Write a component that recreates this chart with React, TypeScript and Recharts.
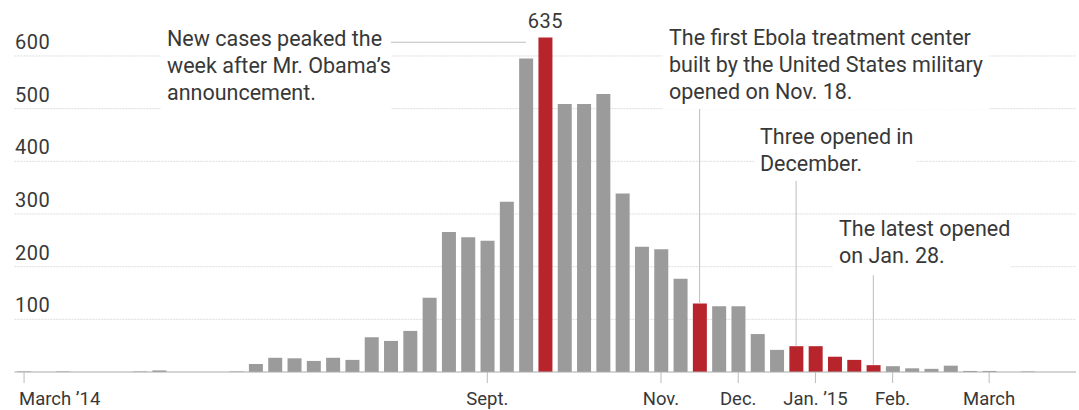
import { BarChart, Bar, XAxis, YAxis, CartesianGrid, Cell, LabelList, ReferenceLine } from 'recharts';

// weekly new Ebola cases, March 2014 – March 2015
const weeks = Array.from({ length: 55 }, (_, i) => `w${i}`);
const cases = [
  1, 0, 1, 0, 0, 0, 1, 3, 0, 0,
  0, 1, 15, 27, 26, 21, 27, 23, 66, 59,
  78, 141, 266, 256, 249, 323, 595, 635, 509, 509,
  528, 339, 238, 233, 177, 130, 125, 125, 72, 42,
  49, 49, 29, 23, 13, 11, 7, 6, 12, 2,
  2, 0, 1, 0, 0,
];
// weeks drawn in red (peak + treatment centers opening)
const highlighted = [27, 35, 40, 41, 42, 43, 44];
const peakWeek = 27;

const tickWeeks = [0, 24, 33, 37, 41, 45, 50];
const tickLabels = ['March ’14', 'Sept.', 'Nov.', 'Dec.', 'Jan. ’15', 'Feb.', 'March'];
const yTicks = [100, 200, 300, 400, 500, 600];

const data = weeks.map((week, i) => ({ week, cases: cases[i] }));

const FONT = 'Roboto, "Liberation Sans", Arial, sans-serif';
const TEXT = '#383838';
const GRAY = '#9b9b9b';
const RED = '#b7242c';
const LEADER = '#bdbdbd';

const notes = [
  { x: 167, y: 46, w: 230, lines: ['New cases peaked the', 'week after Mr. Obama’s', 'announcement.'] },
  { x: 669, y: 45, w: 326, lines: ['The first Ebola treatment center', 'built by the United States military', 'opened on Nov. 18.'] },
  { x: 760, y: 144, w: 162, lines: ['Three opened in', 'December.'] },
  { x: 839, y: 236, w: 178, lines: ['The latest opened', 'on Jan. 28.'] },
];

function MonthTick(props: any) {
  const { x, y, payload } = props;
  const idx = tickWeeks.indexOf(weeks.indexOf(payload.value));
  if (idx < 0) return null;
  const first = idx === 0;
  return (
    <g>
      <line x1={x} x2={x} y1={y} y2={y + 11} stroke="#bbb" />
      <text x={first ? x - 5 : x} y={y + 33} textAnchor={first ? 'start' : 'middle'} fontSize={18.5} fill={TEXT} fontFamily={FONT}>
        {tickLabels[idx]}
      </text>
    </g>
  );
}

function ValueTick(props: any) {
  const { y, payload } = props;
  return (
    <text x={15} y={y - 7} fontSize={20} letterSpacing={0.5} fill={TEXT} fontFamily={FONT}>
      {payload.value}
    </text>
  );
}

function PeakLabel(props: any) {
  const { x, y, width, value } = props;
  if (value !== cases[peakWeek]) return null;
  return (
    <text x={x + width / 2} y={y - 10} textAnchor="middle" fontSize={20} letterSpacing={0.5} fill={TEXT} fontFamily={FONT}>
      {value}
    </text>
  );
}

export default function App() {
  return (
    <div style={{ position: 'absolute', left: 0, top: 0, width: 1079, height: 410, background: '#fff' }}>
      <BarChart
        width={1079}
        height={410}
        data={data}
        margin={{ top: 3.3, right: 3, bottom: 0, left: 0 }}
        barCategoryGap="15%"
      >
        <CartesianGrid
          horizontal
          vertical={false}
          syncWithTicks
          horizontalValues={yTicks}
          stroke="#dcdcdc"
          strokeDasharray="2 1"
        />
        <XAxis
          dataKey="week"
          interval={0}
          height={38}
          tickSize={0}
          tickMargin={0}
          tickLine={false}
          axisLine={{ stroke: '#aaa' }}
          tick={<MonthTick />}
        />
        <YAxis
          width={14.4}
          domain={[0, 700]}
          ticks={yTicks}
          interval={0}
          axisLine={false}
          tickLine={false}
          tick={<ValueTick />}
        />
        <ReferenceLine segment={[{ x: 'w19', y: 626 }, { x: 'w26', y: 626 }]} stroke={LEADER} />
        <ReferenceLine segment={[{ x: 'w35', y: cases[35] }, { x: 'w35', y: 501 }]} stroke={LEADER} />
        <ReferenceLine segment={[{ x: 'w40', y: cases[40] }, { x: 'w40', y: 364 }]} stroke={LEADER} />
        <ReferenceLine segment={[{ x: 'w44', y: cases[44] }, { x: 'w44', y: 184 }]} stroke={LEADER} />
        <Bar dataKey="cases" isAnimationActive={false}>
          {data.map((d, i) => (
            <Cell key={d.week} fill={highlighted.includes(i) ? RED : GRAY} />
          ))}
          <LabelList dataKey="cases" content={<PeakLabel />} />
        </Bar>
      </BarChart>
      <svg width={1079} height={410} style={{ position: 'absolute', left: 0, top: 0, pointerEvents: 'none' }}>
        {/* hide the grid's edge line at the top of the plot */}
        <rect x={0} y={0} width={1079} height={7} fill="#fff" />
        {notes.map((n) => (
          <g key={n.lines[0]}>
            <rect x={n.x - 6} y={n.y - 19} width={n.w} height={n.lines.length * 27 + 2} fill="#fff" />
            {n.lines.map((line, j) => (
              <text key={line} x={n.x} y={n.y + j * 27} fontSize={21.5} fill={TEXT} fontFamily={FONT}>
                {line}
              </text>
            ))}
          </g>
        ))}
      </svg>
    </div>
  );
}
